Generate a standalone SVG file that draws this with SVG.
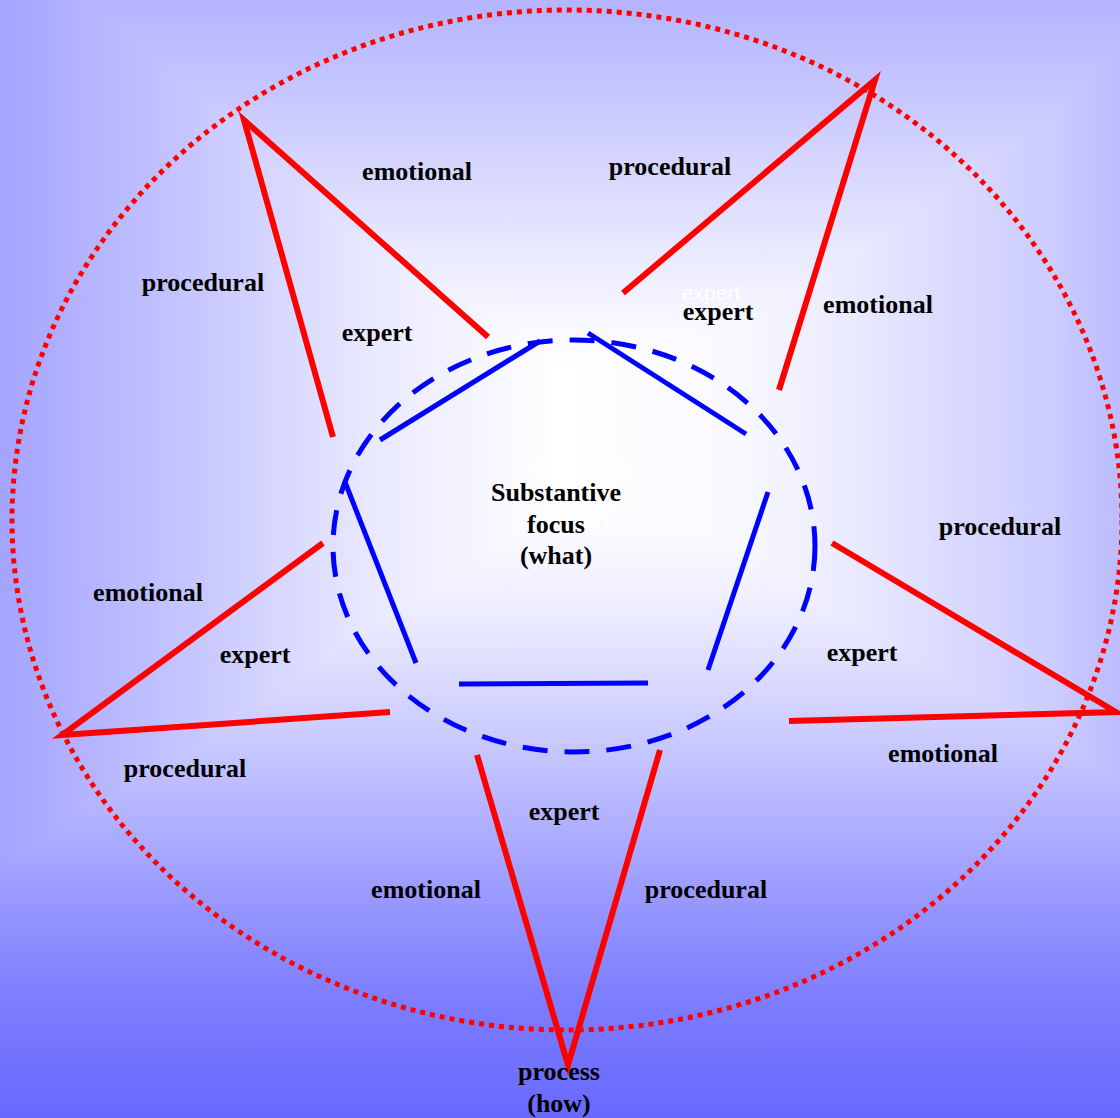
<svg xmlns="http://www.w3.org/2000/svg" width="1120" height="1118" viewBox="0 0 1120 1118">
<defs>
<linearGradient id="bgx" gradientUnits="userSpaceOnUse" x1="0" y1="0" x2="1120" y2="0">
<stop offset="0" stop-color="#a4a4ff"/>
<stop offset="0.09" stop-color="#b6b6ff"/>
<stop offset="0.18" stop-color="#c8c8ff"/>
<stop offset="0.27" stop-color="#dcdcff"/>
<stop offset="0.34" stop-color="#eaeaff"/>
<stop offset="0.5" stop-color="#ffffff"/>
<stop offset="0.66" stop-color="#f8f8ff"/>
<stop offset="0.76" stop-color="#eaeaff"/>
<stop offset="0.85" stop-color="#dadaff"/>
<stop offset="0.94" stop-color="#ccccff"/>
<stop offset="1" stop-color="#bcbcff"/>
</linearGradient>
<linearGradient id="bgy" gradientUnits="userSpaceOnUse" x1="0" y1="0" x2="0" y2="1118">
<stop offset="0" stop-color="#b4b4ff"/>
<stop offset="0.09" stop-color="#c8c8ff"/>
<stop offset="0.18" stop-color="#dedeff"/>
<stop offset="0.28" stop-color="#f6f6ff"/>
<stop offset="0.33" stop-color="#ffffff"/>
<stop offset="0.45" stop-color="#ffffff"/>
<stop offset="0.55" stop-color="#ececff"/>
<stop offset="0.66" stop-color="#cacaff"/>
<stop offset="0.76" stop-color="#a8a8ff"/>
<stop offset="0.83" stop-color="#9090ff"/>
<stop offset="0.9" stop-color="#7c7cff"/>
<stop offset="1" stop-color="#6868ff"/>
</linearGradient>
<style>
.lbl{font-family:"Liberation Serif","Times New Roman",serif;font-weight:bold;font-size:26px;fill:#000;text-anchor:middle}
.ghost{font-family:"Liberation Sans",Arial,sans-serif;font-size:22px;fill:#ffffff;text-anchor:middle}
.red{stroke:#ff0000;stroke-width:6;fill:none;stroke-linecap:butt}
.blue{stroke:#0000ff;stroke-width:5;fill:none}
</style>
</defs>
<g id="background" style="isolation:isolate">
<rect x="0" y="0" width="1120" height="1118" fill="url(#bgx)"/>
<rect x="0" y="0" width="1120" height="1118" fill="url(#bgy)" style="mix-blend-mode:darken"/>
</g>
<g id="outer-ellipse">
<ellipse cx="567" cy="520" rx="555" ry="510" fill="none" stroke="#ff0000" stroke-width="5" stroke-dasharray="5 5"/>
</g>
<g id="inner-circle">
<ellipse cx="574" cy="546" rx="241" ry="206" fill="none" stroke="#0000ff" stroke-width="5" stroke-dasharray="25 17"/>
</g>
<g id="connectors">
<g id="pentagon">
<line class="blue" x1="380" y1="440" x2="540" y2="341"/>
<line class="blue" x1="588" y1="333" x2="746" y2="434"/>
<line class="blue" x1="768" y1="492" x2="708" y2="670"/>
<line class="blue" x1="459" y1="684" x2="648" y2="683"/>
<line class="blue" x1="345" y1="482" x2="416" y2="663"/>
</g>
<g id="star">
<polyline class="red" points="488,337 244,120 333,437"/>
<polyline class="red" points="623,293 875,80 779,390"/>
<polyline class="red" points="832,543 1116,712 789,721"/>
<polyline class="red" points="477,755 568,1065 660,750"/>
<polyline class="red" points="323,543 62,735 390,712"/>
</g>
</g>
<g id="center-node">
<text class="ghost" x="578" y="475" style="font-size:23px">substantive</text>
<text class="ghost" x="577" y="533" style="font-size:23px">(what)</text>
<text class="lbl" x="556" y="501">Substantive</text>
<text class="lbl" x="556" y="533">focus</text>
<text class="lbl" x="556" y="564">(what)</text>
</g>
<g id="process-node">
<text class="lbl" x="559" y="1080">process</text>
<text class="lbl" x="559" y="1112">(how)</text>
</g>
<g id="labels-top-left">
<text class="lbl" x="417" y="180">emotional</text>
<text class="lbl" x="203" y="291">procedural</text>
<text class="lbl" x="377" y="341">expert</text>
</g>
<g id="labels-top-right">
<text class="lbl" x="670" y="175">procedural</text>
<text class="ghost" x="711" y="300" style="font-size:21px">expert</text>
<text class="lbl" x="718" y="320">expert</text>
<text class="lbl" x="878" y="313">emotional</text>
</g>
<g id="labels-right">
<text class="lbl" x="1000" y="535">procedural</text>
<text class="lbl" x="862" y="661">expert</text>
<text class="lbl" x="943" y="762">emotional</text>
</g>
<g id="labels-left">
<text class="lbl" x="148" y="601">emotional</text>
<text class="lbl" x="255" y="663">expert</text>
<text class="lbl" x="185" y="777">procedural</text>
</g>
<g id="labels-bottom">
<text class="lbl" x="564" y="820">expert</text>
<text class="lbl" x="426" y="898">emotional</text>
<text class="lbl" x="706" y="898">procedural</text>
</g>
</svg>
